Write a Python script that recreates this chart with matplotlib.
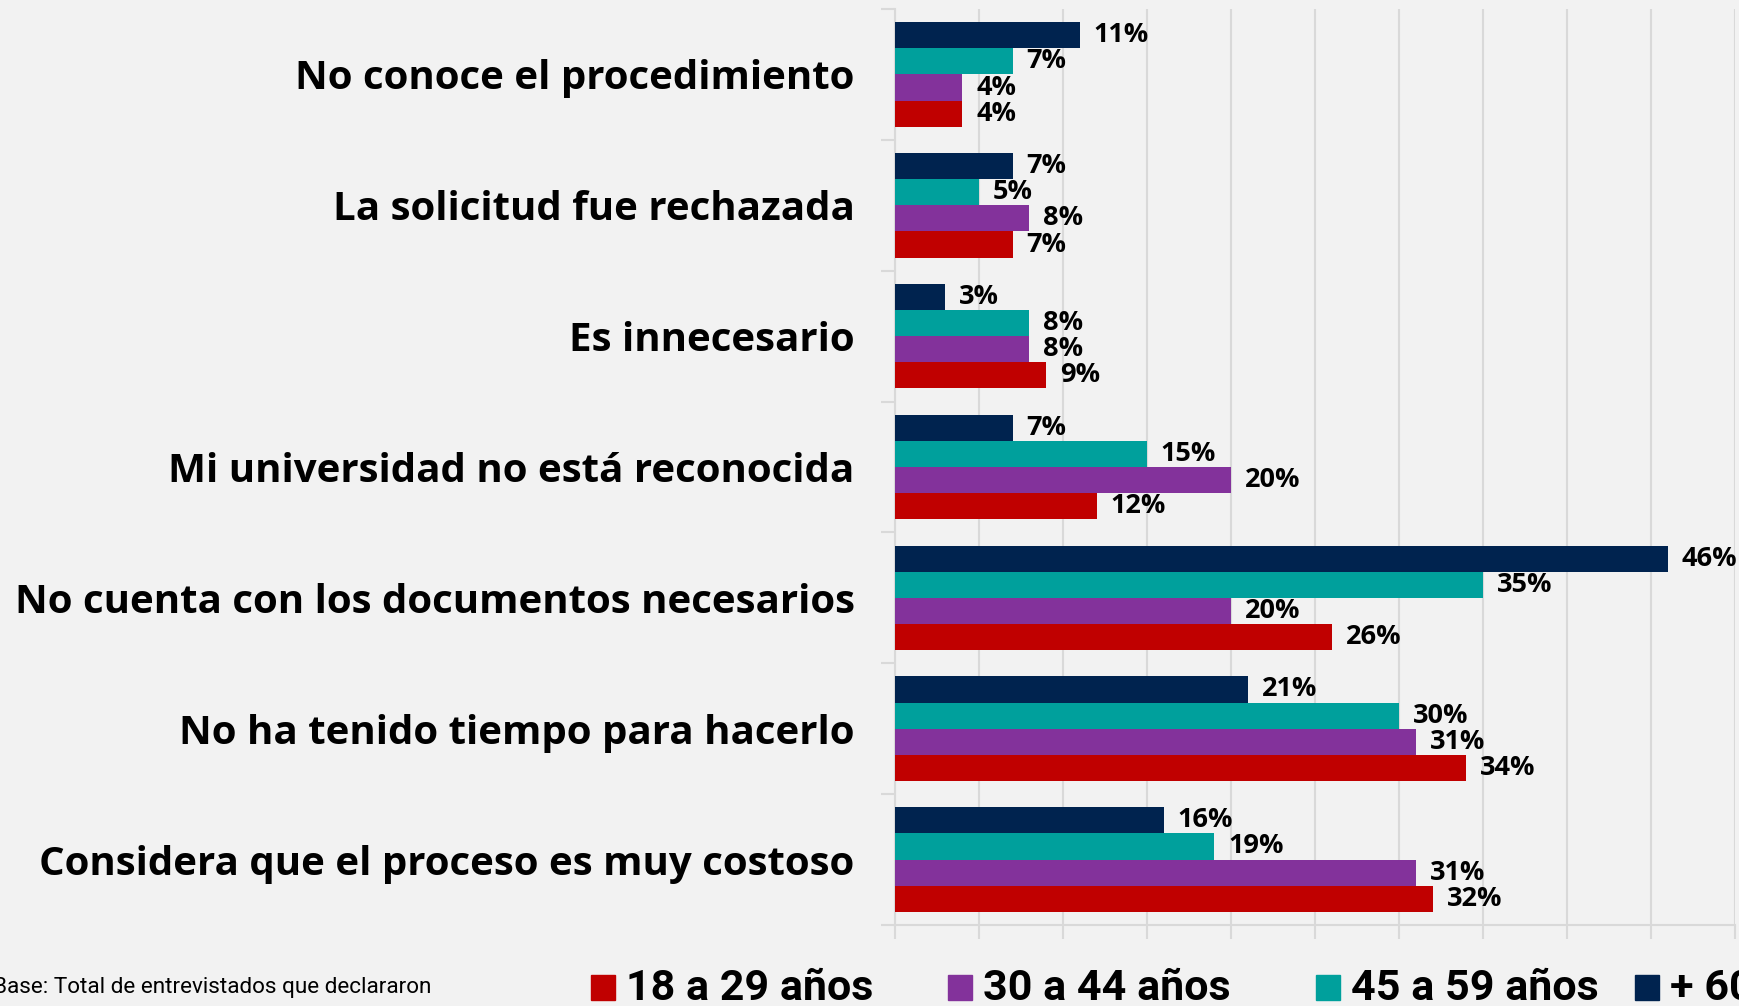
import matplotlib.pyplot as plt
from matplotlib.patches import Rectangle
import numpy as np

# datos
categorias = ["No conoce el procedimiento",
              "La solicitud fue rechazada",
              "Es innecesario",
              "Mi universidad no está reconocida",
              "No cuenta con los documentos necesarios",
              "No ha tenido tiempo para hacerlo",
              "Considera que el proceso es muy costoso"]
grupos = ["18 a 29 años", "30 a 44 años", "45 a 59 años", "+ 60 años"]
edad_18_29 = [4, 7, 9, 12, 26, 34, 32]
edad_30_44 = [4, 8, 8, 20, 20, 31, 31]
edad_45_59 = [7, 5, 8, 15, 35, 30, 19]
edad_60 = [11, 7, 3, 7, 46, 21, 16]
nota = "Base: Total de entrevistados que declararon"

colores = ["#C00000", "#83329B", "#00A09C", "#00234F"]
fondo = "#F2F2F2"
W, H = 1739, 1006

fig = plt.figure(figsize=(W / 100, H / 100), dpi=100, facecolor=fondo)
ax = fig.add_axes([895 / W, 1 - 925 / H, (1735 - 895) / W, (925 - 9) / H])
ax.set_facecolor(fondo)

y = np.arange(len(categorias))
alto = 0.2
series = [edad_18_29, edad_30_44, edad_45_59, edad_60]
offsets = [0.3, 0.1, -0.1, -0.3]
for vals, col, off, nom in zip(series, colores, offsets, grupos):
    barras = ax.barh(y + off, vals, height=alto, color=col, label=nom, zorder=3)
    ax.bar_label(barras, labels=[f"{v}%" for v in vals], padding=10,
                 fontsize=19.5, fontweight="bold", family="Open Sans", clip_on=False)

ax.set_xlim(0, 50)
ax.set_ylim(len(categorias) - 0.5, -0.5)
ax.set_xticks(np.arange(0, 51, 5))
ax.set_xticklabels([])
ax.grid(axis="x", color="#D9D9D9", linewidth=1.5, zorder=0)
ax.tick_params(axis="x", length=10, width=1.5, color="#D9D9D9")

ax.set_yticks(y)
ax.set_yticklabels(categorias, fontsize=29, fontweight="bold", family="Open Sans")
ax.tick_params(axis="y", which="major", length=0, pad=29)
ax.set_yticks(np.arange(-0.5, len(categorias), 1), minor=True)
ax.tick_params(axis="y", which="minor", length=10, width=1.5, color="#D9D9D9")

for s in ["top", "right"]:
    ax.spines[s].set_visible(False)
for s in ["left", "bottom"]:
    ax.spines[s].set_color("#D9D9D9")
    ax.spines[s].set_linewidth(1.5)

# nota al pie (recortada a la izquierda como en el original)
fig.text(431 / W, 1 - 987 / H, nota, ha="right", va="center", fontsize=16.2,
         family="Roboto")

# leyenda manual
leg_x = [591, 948, 1316, 1635]
for x0, col, nom in zip(leg_x, colores, grupos):
    fig.patches.append(Rectangle((x0 / W, 1 - 1000 / H), 24 / W, 25 / H,
                                 transform=fig.transFigure, color=col))
    fig.text((x0 + 35) / W, 1 - 988 / H, nom, ha="left", va="center",
             fontsize=31, fontweight="bold", family="Roboto")

plt.savefig("out.png", dpi=100, facecolor=fondo)
